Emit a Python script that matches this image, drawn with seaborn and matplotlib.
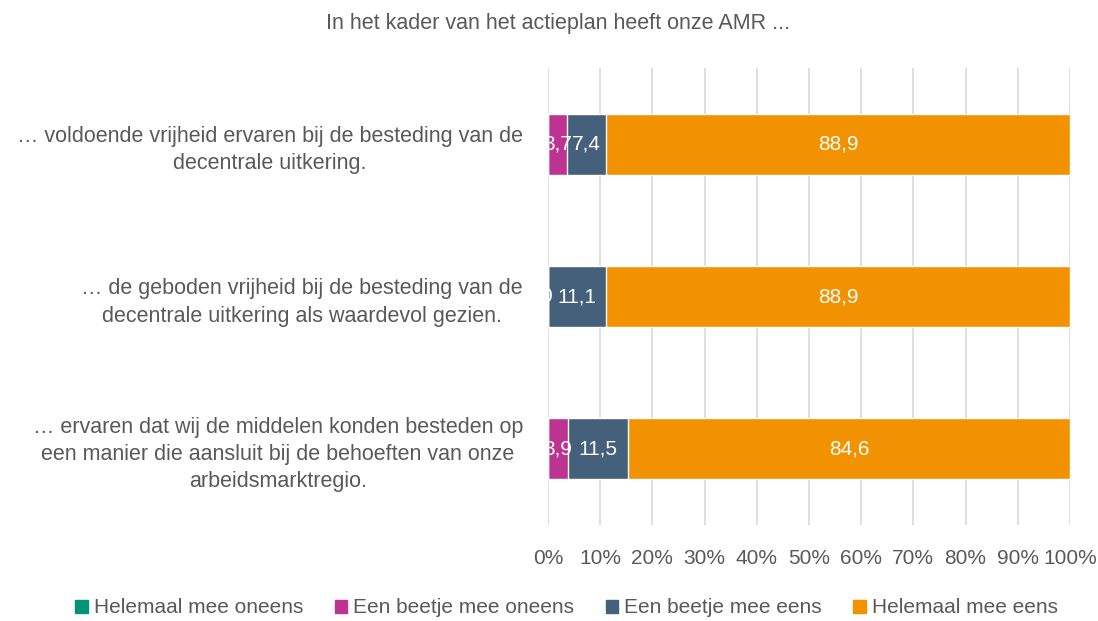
import numpy as np
import pandas as pd
import matplotlib
matplotlib.use("Agg")
import matplotlib.pyplot as plt
import seaborn as sns
from matplotlib.ticker import FuncFormatter
from matplotlib.patches import Patch

# data
vragen = [
    "… voldoende vrijheid ervaren bij de besteding van de\ndecentrale uitkering.",
    "… de geboden vrijheid bij de besteding van de\ndecentrale uitkering als waardevol gezien.",
    "… ervaren dat wij de middelen konden besteden op\neen manier die aansluit bij de behoeften van onze\narbeidsmarktregio.",
]
reeksen = ["Helemaal mee oneens", "Een beetje mee oneens", "Een beetje mee eens", "Helemaal mee eens"]
helemaal_oneens = [0.0, 0.0, 0.0]
beetje_oneens = [3.7, 0.0, 3.9]
beetje_eens = [7.4, 11.1, 11.5]
helemaal_eens = [88.9, 88.9, 84.6]
kleuren = ["#00957A", "#BD3391", "#44607A", "#F39200"]

sns.set_theme(style="white")
plt.rcParams['font.family'] = ['Liberation Sans', 'DejaVu Sans']
grijs = "#595959"
fs = 15

df = pd.DataFrame({"vraag": vragen,
                   reeksen[0]: helemaal_oneens,
                   reeksen[1]: beetje_oneens,
                   reeksen[2]: beetje_eens,
                   reeksen[3]: helemaal_eens})
cum = df[reeksen].cumsum(axis=1)

fig = plt.figure(figsize=(10.98, 6.21), dpi=100)
ax = fig.add_axes([0.499, 0.1546, 0.4755, 0.7355])

# stacked bars: draw cumulative totals from largest to smallest
for i in range(len(reeksen) - 1, -1, -1):
    sns.barplot(x=cum[reeksen[i]], y=df["vraag"], color=kleuren[i],
                width=0.4, saturation=1, orient="h", ax=ax, zorder=2)

# labels in the middle of each segment
for j in range(len(vragen)):
    nul_getekend = False
    for i, r in enumerate(reeksen):
        w = df[r][j]
        if w == 0:
            # zero label only where the next segment leaves room for it
            rest = [df[q][j] for q in reeksen[i + 1:] if df[q][j] > 0]
            if nul_getekend or (rest and rest[0] < 8):
                continue
            nul_getekend = True
            ax.text(cum[r][j] - 0.4, j, "0", ha="center", va="center",
                    color="white", fontsize=fs, zorder=3)
            continue
        mid = cum[r][j] - w / 2
        ax.text(mid, j, f"{w:.1f}".replace(".", ","),
                ha="center", va="center", color="white", fontsize=fs, zorder=3)

ax.set_xlim(0, 100)
ax.set_ylim(2.5, -0.5)
ax.set_xticks(np.arange(0, 101, 10))
ax.xaxis.set_major_formatter(FuncFormatter(lambda v, p: f"{v:.0f}%"))
ax.grid(axis="x", color="#D9D9D9", linewidth=1.2, zorder=0)
ax.set_axisbelow(True)
for s in ax.spines.values():
    s.set_visible(False)
ax.set_xlabel("")
ax.set_ylabel("")
ax.tick_params(axis="x", length=0, pad=17, labelsize=fs, labelcolor=grijs)
ax.tick_params(axis="y", length=0, pad=18, labelsize=15.5, labelcolor=grijs)
for lab in ax.get_yticklabels():
    lab.set_multialignment("center")
    lab.set_linespacing(1.4)

fig.text(0.508, 0.962, "In het kader van het actieplan heeft onze AMR ...",
         ha="center", va="center", fontsize=15.5, color=grijs)

handles = [Patch(facecolor=c, edgecolor=c) for c in kleuren]
fig.legend(handles, reeksen, loc="center", bbox_to_anchor=(0.516, 0.021),
           ncol=4, frameon=False, fontsize=fs, handlelength=0.6, handleheight=0.6,
           handletextpad=0.3, columnspacing=1.5, labelcolor=grijs)

fig.savefig("out.png", dpi=100)
